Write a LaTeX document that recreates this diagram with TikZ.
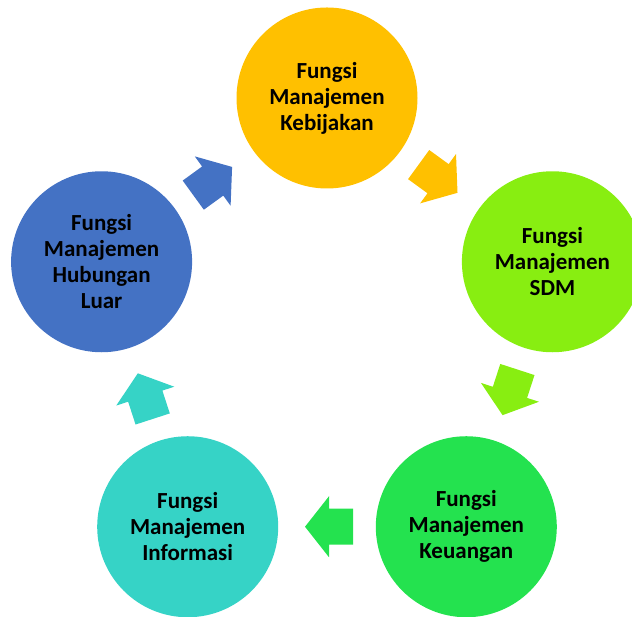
\documentclass[tikz,border=0pt]{standalone}
\usepackage{fontspec}
\setmainfont{Carlito}
\usetikzlibrary{calc}
\definecolor{cgold}{HTML}{FFC000}
\definecolor{clime}{HTML}{88EE11}
\definecolor{cgreen}{HTML}{24E24F}
\definecolor{cteal}{HTML}{36D3C6}
\definecolor{cblue}{HTML}{4472C4}
\tikzset{
  x=1pt,y=1pt,
  bubble/.style={circle,minimum size=181pt,inner sep=0pt,align=center,
    font=\bfseries\fontsize{23}{26}\selectfont,text=black},
  blockarrow/.pic={
    \fill (-26,-18) -- (-2,-18) -- (-2,-30.5) -- (22,0) -- (-2,30.5) -- (-2,18) -- (-26,18) -- cycle;
  }
}
\begin{document}
\begin{tikzpicture}
\useasboundingbox (0,0) rectangle (632,617);
\clip (0,0) rectangle (632,617);
\coordinate (ctr) at (327,282);
\node[bubble,fill=cgold]  (c1) at ($(ctr)+(90:237)$)   {Fungsi\\Manajemen\\Kebijakan};
\node[bubble,fill=clime]  (c2) at ($(ctr)+(18:237)$)   {Fungsi\\Manajemen\\SDM};
\node[bubble,fill=cgreen] (c3) at ($(ctr)+(-54:237)$)  {Fungsi\\Manajemen\\Keuangan};
\node[bubble,fill=cteal]  (c4) at ($(ctr)+(-126:237)$) {Fungsi\\Manajemen\\Informasi};
\node[bubble,fill=cblue]  (c5) at ($(ctr)+(162:237)$)  {Fungsi\\Manajemen\\Hubungan\\Luar};
\pic[fill=cgold,rotate=-36]  at ($(c1.center)!0.5!(c2.center)$) {blockarrow};
\pic[fill=clime,rotate=-108] at ($(c2.center)!0.5!(c3.center)$) {blockarrow};
\pic[fill=cgreen,rotate=180] at ($(c3.center)!0.5!(c4.center)$) {blockarrow};
\pic[fill=cteal,rotate=108]  at ($(c4.center)!0.5!(c5.center)$) {blockarrow};
\pic[fill=cblue,rotate=36]   at ($(c5.center)!0.5!(c1.center)$) {blockarrow};
\end{tikzpicture}
\end{document}
